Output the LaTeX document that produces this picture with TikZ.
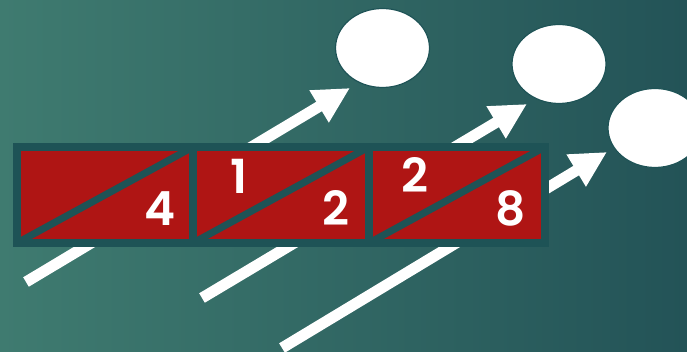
\documentclass[tikz,border=0pt]{standalone}
\usepackage{fontspec}
\newfontfamily\numfont[BoldFont={Poppins SemiBold}]{Poppins}
\usetikzlibrary{arrows.meta,shapes.geometric}
\definecolor{bgL}{HTML}{3F7B70}
\definecolor{bgR}{HTML}{235357}
\definecolor{boxred}{HTML}{AF1514}
\definecolor{edge}{HTML}{1E5356}
\tikzset{
  cell/.style={draw=edge, fill=boxred, line width=8pt, minimum width=176pt, minimum height=96pt, inner sep=0pt, outer sep=0pt},
  diag/.style={draw=edge, line width=7pt},
  num/.style={text=white, font=\numfont\bfseries\fontsize{47}{47}\selectfont, inner sep=0pt},
  arr/.style={white, line width=11pt, -{Triangle[length=36pt,width=35pt]}},
  bubble/.style={ellipse, draw=edge, line width=1.2pt, fill=white, minimum width=94pt, minimum height=79pt, inner sep=0pt}
}
\begin{document}
\begin{tikzpicture}[x=1pt,y=-1pt]
\useasboundingbox (0,0) rectangle (687,352);
\shade[shading angle=100, left color=bgL, right color=bgR] (0,0) rectangle (687,352);
% arrows
\coordinate (t1) at (26,282); \coordinate (h1) at (350,88);
\coordinate (t2) at (202,298); \coordinate (h2) at (527,104);
\coordinate (t3) at (282,348); \coordinate (h3) at (607,152);
\draw[arr] (t1) -- (h1);
\draw[arr] (t2) -- (h2);
\draw[arr] (t3) -- (h3);
% bubbles
\node[bubble] (e1) at (382.5,48) {};
\node[bubble] (e2) at (559,64) {};
\node[bubble] (e3) at (655,128) {};
% boxes
\node[cell] (b1) at (105,195) {};
\node[cell] (b2) at (281,195) {};
\node[cell] (b3) at (457,195) {};
\draw[diag] (b1.south west) -- (b1.north east);
\draw[diag] (b2.south west) -- (b2.north east);
\draw[diag] (b3.south west) -- (b3.north east);
% numbers
\node[num] (n1) at (160,209) {4};
\node[num] (n2) at (239,176) {1};
\node[num] (n3) at (336,208) {2};
\node[num] (n4) at (415,175) {2};
\node[num] (n5) at (511,208) {8};
\end{tikzpicture}
\end{document}
